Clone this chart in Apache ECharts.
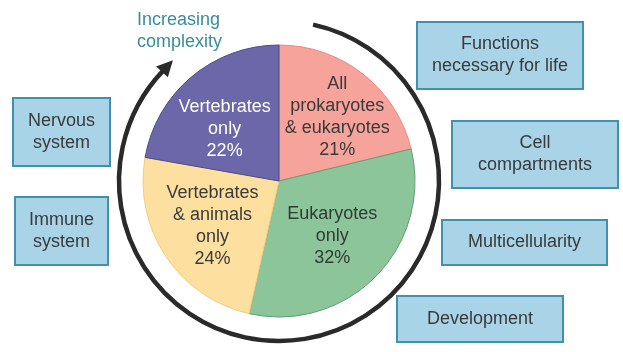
<!DOCTYPE html>
<html>
<head>
<meta charset="utf-8">
<script src="https://cdn.jsdelivr.net/npm/echarts@6/dist/echarts.min.js"></script>
<style>
  html, body { margin: 0; padding: 0; background: #fff; }
  #chart { width: 623px; height: 352px; }
</style>
</head>
<body>
<div id="chart"></div>
<script>
// pie slices, clockwise from 12 o'clock
const categories = ['All\nprokaryotes\n& eukaryotes', 'Eukaryotes\nonly', 'Vertebrates\n& animals\nonly', 'Vertebrates\nonly']
const percents = [21, 32, 24, 22]
const sliceColors = ['#f5a39b', '#8dc59b', '#fde09f', '#6b67a8']
const sliceBorders = ['#e98a82', '#5f9f72', '#f0cc80', '#4f4b8c']
const labelColors = ['#3a3a3a', '#2f3b33', '#3a3a3a', '#ffffff']
// nudges for the labels inside the slices
const labelNudge = [[6, 3], [-7, -4], [4, -2], [0, 13]]

// boxes around the pie
const boxLabels = ['Nervous\nsystem', 'Immune\nsystem', 'Functions\nnecessary for life', 'Cell\ncompartments', 'Multicellularity', 'Development']
const boxRects = [
  [13, 98, 97, 68],
  [15, 197, 93, 68],
  [417, 22, 166, 67],
  [452, 121, 166, 67],
  [442, 220, 165, 45],
  [397, 296, 166, 46]
]
const arrowTitle = 'Increasing\ncomplexity'

const cx = 279, cy = 181, pieR = 136, ringR = 160
const font = '"Liberation Sans", Arial, sans-serif'

const chart = echarts.init(document.getElementById('chart'))

const deg = Math.PI / 180
const startA = -77.7 * deg
const endA = 224 * deg
// arrow head at the end of the ring
const headBase = 223 * deg
const bx = cx + ringR * Math.cos(headBase), by = cy + ringR * Math.sin(headBase)
const tx = -Math.sin(headBase), ty = Math.cos(headBase)
const rx = Math.cos(headBase), ry = Math.sin(headBase)
const headLen = 16, headW = 8
const headPts = [
  [bx + tx * headLen, by + ty * headLen],
  [bx + rx * headW, by + ry * headW],
  [bx - rx * headW, by - ry * headW]
]

const graphics = [
  {
    type: 'arc',
    shape: { cx: cx, cy: cy, r: ringR, startAngle: startA, endAngle: endA, clockwise: true },
    style: { stroke: '#2a2a2a', lineWidth: 4.5, fill: null },
    z: 10
  },
  {
    type: 'polygon',
    shape: { points: headPts },
    style: { fill: '#2a2a2a' },
    z: 10
  },
  {
    type: 'text',
    left: 137,
    top: 9,
    style: { text: arrowTitle, fill: '#3b8c9b', font: '18px ' + font, lineHeight: 22 },
    z: 10
  }
]
boxRects.forEach((b, i) => {
  graphics.push({
    type: 'rect',
    shape: { x: b[0], y: b[1], width: b[2], height: b[3] },
    style: { fill: '#a9d3e7', stroke: '#3f91ae', lineWidth: 2 },
    z: 10
  })
  graphics.push({
    type: 'text',
    x: b[0] + b[2] / 2,
    y: b[1] + b[3] / 2,
    style: { text: boxLabels[i], fill: '#3a3a3a', font: '18px ' + font, lineHeight: 22, align: 'center', verticalAlign: 'middle' },
    z: 11
  })
})

const sliceData = categories.map((name, i) => ({
  name: name,
  value: percents[i],
  itemStyle: { color: sliceColors[i], borderColor: sliceBorders[i], borderWidth: 1 }
}))
const labelData = categories.map((name, i) => ({
  name: name,
  value: percents[i],
  itemStyle: { color: 'rgba(0,0,0,0)' },
  label: { color: labelColors[i], offset: labelNudge[i] }
}))

chart.setOption({
  animation: false,
  backgroundColor: '#ffffff',
  series: [
    {
      type: 'pie',
      center: [cx, cy],
      radius: [0, pieR],
      startAngle: 90,
      clockwise: true,
      silent: true,
      label: { show: false },
      labelLine: { show: false },
      data: sliceData
    },
    {
      type: 'pie',
      center: [cx, cy],
      radius: [0, pieR * 1.2],
      startAngle: 90,
      clockwise: true,
      silent: true,
      label: {
        show: true,
        position: 'inside',
        formatter: '{b}\n{c}%',
        fontSize: 18,
        lineHeight: 22,
        fontFamily: font,
        align: 'center'
      },
      labelLine: { show: false },
      data: labelData,
      z: 5
    }
  ],
  graphic: graphics
})
</script>
</body>
</html>
